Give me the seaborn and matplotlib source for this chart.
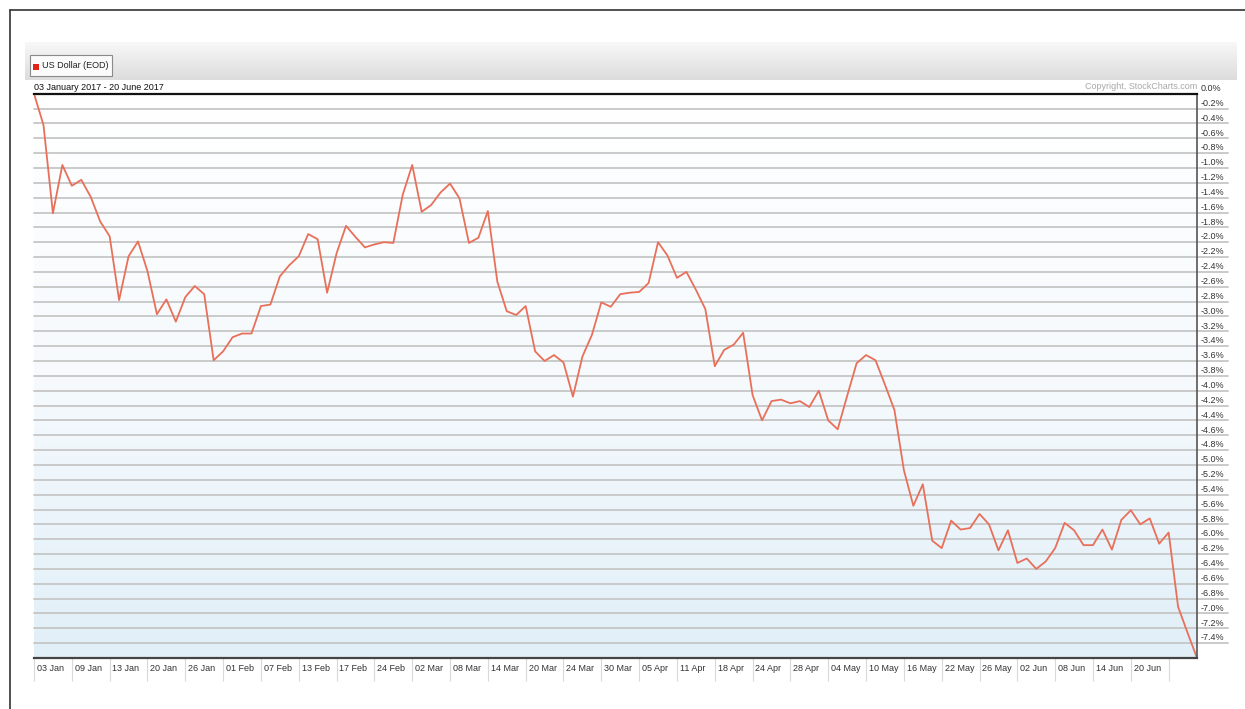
import numpy as np
import pandas as pd
import matplotlib.pyplot as plt
import seaborn as sns
from matplotlib.patches import Rectangle
from matplotlib.lines import Line2D
from matplotlib.colors import LinearSegmentedColormap

# daily % change of US Dollar (EOD) vs 03 Jan 2017, one value per trading day
pct = [0.00, -0.42, -1.61, -0.96, -1.24, -1.16, -1.39, -1.72, -1.92, -2.78,
       -2.19, -1.99, -2.39, -2.97, -2.77, -3.07, -2.74, -2.59, -2.70, -3.59,
       -3.47, -3.28, -3.23, -3.23, -2.86, -2.84, -2.46, -2.31, -2.19, -1.89,
       -1.96, -2.68, -2.15, -1.78, -1.93, -2.07, -2.03, -2.00, -2.01, -1.36,
       -0.96, -1.59, -1.50, -1.33, -1.21, -1.41, -2.01, -1.94, -1.58, -2.53,
       -2.93, -2.98, -2.86, -3.47, -3.60, -3.52, -3.62, -4.08, -3.54, -3.25,
       -2.81, -2.87, -2.70, -2.68, -2.67, -2.55, -2.00, -2.18, -2.48, -2.40,
       -2.64, -2.90, -3.67, -3.45, -3.38, -3.22, -4.06, -4.40, -4.14, -4.12,
       -4.17, -4.14, -4.22, -4.00, -4.40, -4.52, -4.07, -3.63, -3.52, -3.59,
       -3.92, -4.26, -5.07, -5.55, -5.26, -6.02, -6.12, -5.75, -5.87, -5.85,
       -5.66, -5.80, -6.15, -5.88, -6.32, -6.26, -6.40, -6.30, -6.12, -5.78,
       -5.88, -6.08, -6.08, -5.87, -6.14, -5.74, -5.61, -5.80, -5.72, -6.06,
       -5.91, -6.91, -7.26, -7.60]

date_labels = ['03 Jan', '09 Jan', '13 Jan', '20 Jan', '26 Jan', '01 Feb', '07 Feb',
               '13 Feb', '17 Feb', '24 Feb', '02 Mar', '08 Mar', '14 Mar', '20 Mar',
               '24 Mar', '30 Mar', '05 Apr', '11 Apr', '18 Apr', '24 Apr', '28 Apr',
               '04 May', '10 May', '16 May', '22 May', '26 May', '02 Jun', '08 Jun',
               '14 Jun', '20 Jun']
label_step = 4  # trading days between date labels
pct_ticks = [round(-0.2 * k, 1) for k in range(1, 38)]

sns.set_style('white')
plt.rcParams['font.family'] = ['Liberation Sans Narrow', 'Liberation Sans', 'DejaVu Sans']

W, H = 1245, 709
def fx(px):
    return px / W
def fy(py):
    return 1 - py / H

fig = plt.figure(figsize=(12.45, 7.09), dpi=100)

# outer frame (cut off at right and bottom)
fig.add_artist(Line2D([fx(10), fx(10)], [fy(10), 0], color='#333333', lw=1.2))
fig.add_artist(Line2D([fx(10), 1], [fy(10), fy(10)], color='#333333', lw=1.2))

# header band
grad = np.linspace(0, 1, 256).reshape(-1, 1)
hax = fig.add_axes([fx(25), fy(80), (1237 - 25) / W, 38 / H])
hax.imshow(grad, aspect='auto', extent=[0, 1, 0, 1],
           cmap=LinearSegmentedColormap.from_list('hdr', ['#f8f8f8', '#dcdcdc']))
hax.axis('off')

fig.add_artist(Rectangle((fx(30), fy(76)), 82 / W, 21 / H, transform=fig.transFigure,
                         fc='#fbfbfb', ec='#8a8a8a', lw=0.8))
fig.add_artist(Rectangle((fx(33), fy(69.5)), 6 / W, 6 / H, transform=fig.transFigure,
                         fc='#e3231b', ec='none'))
fig.text(fx(42), fy(66), 'US Dollar (EOD)', fontsize=6.5, va='center', ha='left', color='#222222')
fig.text(fx(34), fy(87.5), '03 January 2017 - 20 June 2017', fontsize=6.5,
         va='center', ha='left', color='#111111')
fig.text(fx(1197), fy(86.5), 'Copyright, StockCharts.com', fontsize=6.5,
         va='center', ha='right', color='#a8a8a8')

# main chart
ax = fig.add_axes([fx(34), fy(658), (1197 - 34) / W, (658 - 93.7) / H])
n = len(pct)
df = pd.DataFrame({'day': np.arange(n), 'pct': pct})

ax.imshow(grad, aspect='auto', extent=[0, n - 1, -7.6, 0], origin='upper', zorder=0,
          cmap=LinearSegmentedColormap.from_list('bg', ['#ffffff', '#f6fafd', '#e1eff8']))

for v in pct_ticks:
    ax.plot([0, 1.027], [v, v], transform=ax.get_yaxis_transform(), clip_on=False,
            color='#c6c6c6', lw=1.3, zorder=1)
for v in [0.0] + pct_ticks:
    ax.text(1.003, v + 0.01, f'{v:.1f}%', transform=ax.get_yaxis_transform(),
            ha='left', va='bottom', fontsize=6.5, color='#333333')

sns.lineplot(data=df, x='day', y='pct', color='#e8705a', lw=1.3, ax=ax, zorder=3)

ax.set_xlim(0, n - 1)
ax.set_ylim(-7.6, 0)
ax.set_xticks([])
ax.set_yticks([])
ax.set_xlabel('')
ax.set_ylabel('')

ax.vlines(np.arange(0, label_step * len(date_labels) + 1, label_step), -0.04, 0,
          transform=ax.get_xaxis_transform(), color='#d9d9d9', lw=0.8, clip_on=False)
for k, lab in enumerate(date_labels):
    ax.text(k * label_step + 0.3, -0.018, lab, transform=ax.get_xaxis_transform(),
            ha='left', va='center', fontsize=6.5, color='#333333')

ax.spines['left'].set_visible(False)
ax.spines['top'].set_color('#111111')
ax.spines['top'].set_linewidth(1.6)
ax.spines['bottom'].set_color('#444444')
ax.spines['bottom'].set_linewidth(1.6)
ax.spines['right'].set_color('#555555')
ax.spines['right'].set_linewidth(1.2)
for s in ax.spines.values():
    s.set_zorder(4)

fig.savefig('out.png', dpi=100)
